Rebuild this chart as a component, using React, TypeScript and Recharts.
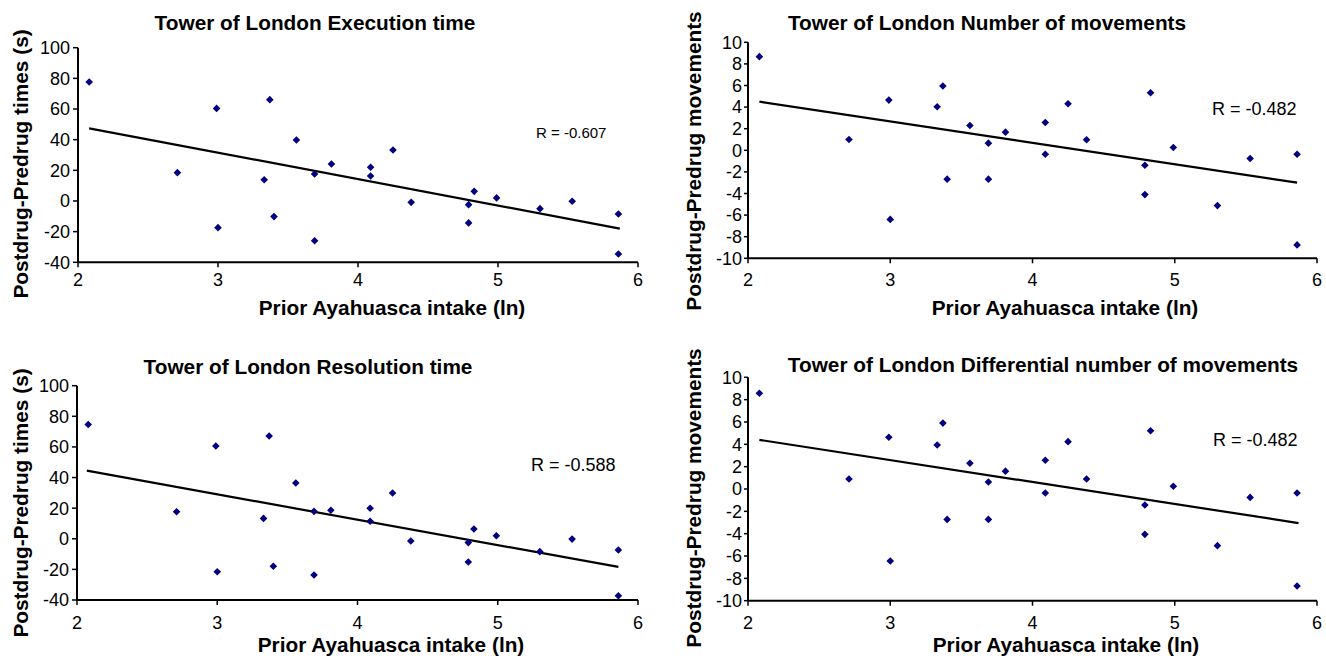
import React from 'react';
import { Customized, ReferenceLine, Scatter, ScatterChart, XAxis, YAxis } from 'recharts';

// ln of prior ayahuasca intake, one entry per subject
const intakeLn = [2.08, 2.71, 2.99, 3.0, 3.33, 3.37, 3.4, 3.56, 3.69, 3.69, 3.81, 4.09, 4.09, 4.25, 4.38, 4.79, 4.79, 4.83, 4.99, 5.3, 5.53, 5.86, 5.86];

const execTime = [77.6, 18.5, 60.4, -17.4, 13.9, 66.1, -10.2, 39.8, 17.6, -25.9, 24.1, 22.0, 16.3, 33.3, -0.9, -2.4, -14.3, 6.3, 2.0, -5.0, -0.2, -8.5, -34.6];
const numMoves = [8.67, 1.0, 4.65, -6.4, 4.03, 5.95, -2.67, 2.3, 0.66, -2.67, 1.68, 2.58, -0.36, 4.31, 0.97, -1.38, -4.1, 5.33, 0.26, -5.12, -0.76, -0.36, -8.76];
const resTime = [74.7, 17.7, 60.6, -21.5, 13.3, 67.1, -18.0, 36.4, 17.9, -23.7, 18.6, 19.9, 11.4, 29.9, -1.5, -2.5, -15.2, 6.4, 2.0, -8.4, -0.2, -7.3, -37.2];
const diffMoves = [8.57, 0.9, 4.63, -6.45, 3.94, 5.9, -2.72, 2.3, 0.63, -2.72, 1.6, 2.57, -0.36, 4.24, 0.9, -1.43, -4.06, 5.22, 0.24, -5.07, -0.75, -0.36, -8.69];

// fitted lines (start, end)
const execTrend = [{ x: 2.08, y: 47.4 }, { x: 5.87, y: -18.0 }];
const movesTrend = [{ x: 2.08, y: 4.5 }, { x: 5.86, y: -3.0 }];
const resTrend = [{ x: 2.07, y: 44.5 }, { x: 5.86, y: -18.4 }];
const diffTrend = [{ x: 2.08, y: 4.4 }, { x: 5.87, y: -3.05 }];

const xTicks = [2, 3, 4, 5, 6];
const timeTicks = [-40, -20, 0, 20, 40, 60, 80, 100];
const moveTicks = [-10, -8, -6, -4, -2, 0, 2, 4, 6, 8, 10];

const toPoints = (ys: number[]) => intakeLn.map((x, i) => ({ x, y: ys[i] }));

const Diamond = (props: any) => {
  const { cx, cy } = props;
  const r = 3.8;
  return <polygon points={`${cx},${cy - r} ${cx + r},${cy} ${cx},${cy + r} ${cx - r},${cy}`} fill="#000080" />;
};

type PanelProps = {
  left: number;
  top: number;
  margin: { top: number; left: number; right: number; bottom: number };
  values: number[];
  trend: { x: number; y: number }[];
  yDomain: [number, number];
  yTicks: number[];
  title: string;
  titlePos: [number, number];
  yLabel: string;
  yLabelPos: [number, number];
  xLabelPos: [number, number];
  rText: string;
  rPos: [number, number];
  rSize: number;
  yTickSize: number;
  yTickMargin: number;
  xTickMargin: number;
};

function Panel(p: PanelProps) {
  const labels = () => (
    <g fontFamily="'Liberation Sans', Arial, sans-serif" fill="#000">
      <text x={p.titlePos[0]} y={p.titlePos[1]} textAnchor="middle" fontSize={20.8} fontWeight="bold">{p.title}</text>
      <text x={p.xLabelPos[0]} y={p.xLabelPos[1]} textAnchor="middle" fontSize={20.8} fontWeight="bold">Prior Ayahuasca intake (ln)</text>
      <text transform={`translate(${p.yLabelPos[0]},${p.yLabelPos[1]}) rotate(-90)`} textAnchor="middle" fontSize={20.8} fontWeight="bold">{p.yLabel}</text>
      <text x={p.rPos[0]} y={p.rPos[1]} fontSize={p.rSize}>{p.rText}</text>
    </g>
  );
  return (
    <div style={{ position: 'absolute', left: p.left, top: p.top }}>
      <ScatterChart width={663} height={329} margin={p.margin}>
        <XAxis
          type="number"
          dataKey="x"
          domain={[2, 6]}
          ticks={xTicks}
          height={30}
          tickSize={5}
          tickMargin={p.xTickMargin}
          axisLine={{ stroke: '#000', strokeWidth: 2 }}
          tickLine={{ stroke: '#000', strokeWidth: 1.5 }}
          tick={{ fill: '#000', fontSize: 18 }}
        />
        <YAxis
          type="number"
          dataKey="y"
          domain={p.yDomain}
          ticks={p.yTicks}
          width={60}
          interval={0}
          tickSize={p.yTickSize}
          tickMargin={p.yTickMargin}
          axisLine={{ stroke: '#000', strokeWidth: 2 }}
          tickLine={{ stroke: '#000', strokeWidth: 1.5 }}
          tick={{ fill: '#000', fontSize: 18 }}
        />
        <ReferenceLine segment={p.trend} stroke="#000" strokeWidth={2.2} ifOverflow="visible" />
        <Scatter data={toPoints(p.values)} shape={Diamond} isAnimationActive={false} />
        <Customized component={labels} />
      </ScatterChart>
    </div>
  );
}

export default function App() {
  return (
    <div style={{ position: 'absolute', left: 0, top: 0, width: 1326, height: 658, background: '#fff', overflow: 'hidden', fontFamily: "'Liberation Sans', Arial, sans-serif" }}>
      <Panel
        left={0} top={0}
        margin={{ top: 47.7, left: 18, right: 25, bottom: 36.7 }}
        values={execTime} trend={execTrend}
        yDomain={[-40, 100]} yTicks={timeTicks}
        title="Tower of London Execution time" titlePos={[315, 30]}
        yLabel="Postdrug-Predrug times (s)" yLabelPos={[28, 164]}
        xLabelPos={[392, 315]}
        rText="R = -0.607" rPos={[536, 138]} rSize={15}
        yTickSize={5} yTickMargin={3} xTickMargin={6}
      />
      <Panel
        left={663} top={0}
        margin={{ top: 42.3, left: 25, right: 9, bottom: 40.7 }}
        values={numMoves} trend={movesTrend}
        yDomain={[-10, 10]} yTicks={moveTicks}
        title="Tower of London Number of movements" titlePos={[324, 30]}
        yLabel="Postdrug-Predrug movements" yLabelPos={[38, 161]}
        xLabelPos={[402, 315]}
        rText="R = -0.482" rPos={[549, 115]} rSize={18}
        yTickSize={4} yTickMargin={2} xTickMargin={10}
      />
      <Panel
        left={0} top={329}
        margin={{ top: 56.7, left: 17, right: 25, bottom: 28 }}
        values={resTime} trend={resTrend}
        yDomain={[-40, 100]} yTicks={timeTicks}
        title="Tower of London Resolution time" titlePos={[308, 45]}
        yLabel="Postdrug-Predrug times (s)" yLabelPos={[28, 174]}
        xLabelPos={[391, 323]}
        rText="R = -0.588" rPos={[531, 142]} rSize={18}
        yTickSize={5} yTickMargin={3} xTickMargin={11}
      />
      <Panel
        left={663} top={329}
        margin={{ top: 48.3, left: 25, right: 9, bottom: 27.3 }}
        values={diffMoves} trend={diffTrend}
        yDomain={[-10, 10]} yTicks={moveTicks}
        title="Tower of London Differential number of movements" titlePos={[380, 43]}
        yLabel="Postdrug-Predrug movements" yLabelPos={[38, 169]}
        xLabelPos={[403, 323]}
        rText="R = -0.482" rPos={[550, 117]} rSize={18}
        yTickSize={4} yTickMargin={2} xTickMargin={11}
      />
    </div>
  );
}
